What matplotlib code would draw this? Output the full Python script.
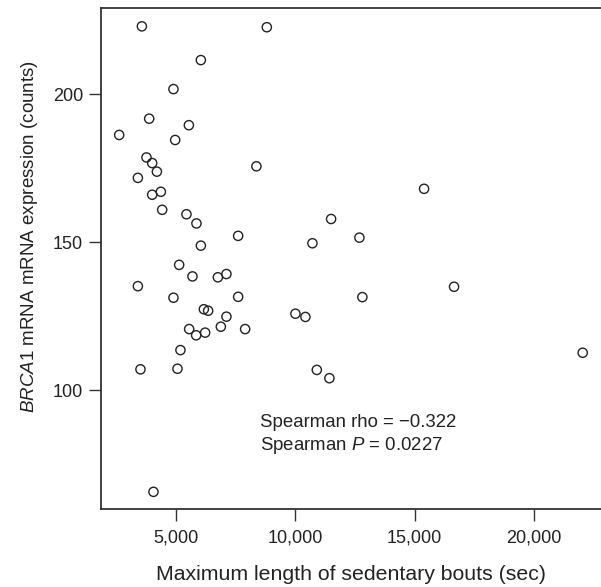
import matplotlib
matplotlib.use("Agg")
import matplotlib.pyplot as plt
from matplotlib.ticker import FixedLocator, FixedFormatter

plt.rcParams['font.family'] = ['Liberation Sans', 'DejaVu Sans']
plt.rcParams['mathtext.fontset'] = 'custom'
plt.rcParams['mathtext.rm'] = 'Liberation Sans'
plt.rcParams['mathtext.it'] = 'Liberation Sans:italic'

# Data
sedentary_bout_sec = [
    3562, 8803, 6036, 4887, 3868, 5533, 2610, 4958, 3755, 3994,
    4191, 3394, 8367, 4358, 3994, 4413, 5432, 5851, 11500, 7600,
    10716, 6036, 12687, 5126, 5684, 6749, 7109, 3394, 4887, 7600,
    6162, 6342, 7109, 10003, 10422, 5545, 5839, 6216, 6874, 7893,
    5180, 3503, 5055, 10900, 11428, 15400, 16658, 12812, 22055, 4048,
]
brca1_counts = [
    223.0, 222.7, 211.6, 201.8, 191.8, 189.6, 186.3, 184.6, 178.7, 176.8,
    173.9, 171.8, 175.7, 167.1, 166.1, 161.0, 159.5, 156.4, 157.9, 152.2,
    149.7, 148.9, 151.6, 142.4, 138.5, 138.2, 139.3, 135.2, 131.3, 131.6,
    127.4, 126.9, 124.9, 125.9, 124.8, 120.7, 118.6, 119.5, 121.5, 120.7,
    113.6, 107.1, 107.3, 106.9, 104.1, 168.1, 135.0, 131.5, 112.7, 65.7,
]

x_ticks = [5000, 10000, 15000, 20000]
x_tick_labels = ["5,000", "10,000", "15,000", "20,000"]
y_ticks = [100, 150, 200]
y_tick_labels = ["100", "150", "200"]

stat_lines = ["Spearman rho = \u22120.322", "Spearman $\\it{P}$ = 0.0227"]

W, H = 601, 587
fig = plt.figure(figsize=(W / 100, H / 100), dpi=100)
left_px, right_px, top_px, bottom_px = 100.5, 602.0, 8.0, 509.0
ax = fig.add_axes([left_px / W, (H - bottom_px) / H,
                   (right_px - left_px) / W, (bottom_px - top_px) / H])

ink = '#222222'
ax.scatter(sedentary_bout_sec, brca1_counts, s=44, facecolors='none',
           edgecolors=ink, linewidths=1.0, zorder=3)

ax.set_xlim(1826, 22864)
ax.set_ylim(59.9, 229.2)

ax.xaxis.set_major_locator(FixedLocator(x_ticks))
ax.xaxis.set_major_formatter(FixedFormatter(x_tick_labels))
ax.yaxis.set_major_locator(FixedLocator(y_ticks))
ax.yaxis.set_major_formatter(FixedFormatter(y_tick_labels))

for side in ['left', 'bottom', 'top']:
    ax.spines[side].set_color('#333333')
    ax.spines[side].set_linewidth(1.3)
ax.spines['right'].set_visible(False)

ax.tick_params(axis='both', direction='out', length=8.6, width=1.0,
               color='#333333', labelsize=13, labelcolor=ink)
ax.tick_params(axis='x', pad=6)
ax.tick_params(axis='y', pad=4)

fig.text(351 / W, (H - 580) / H, "Maximum length of sedentary bouts (sec)",
         fontsize=15.3, color=ink, ha='center', va='baseline')
fig.text(30 / W, (H - 236) / H, "$\\it{BRCA1}$ mRNA mRNA expression (counts)",
         rotation=90, ha='center', va='center', fontsize=13.5, color=ink)

fig.text(260 / W, (H - 427) / H, stat_lines[0], fontsize=13.4, color=ink,
         ha='left', va='baseline')
fig.text(260 / W, (H - 450) / H, stat_lines[1], fontsize=13.4, color=ink,
         ha='left', va='baseline')

fig.savefig("out.png", dpi=100)
